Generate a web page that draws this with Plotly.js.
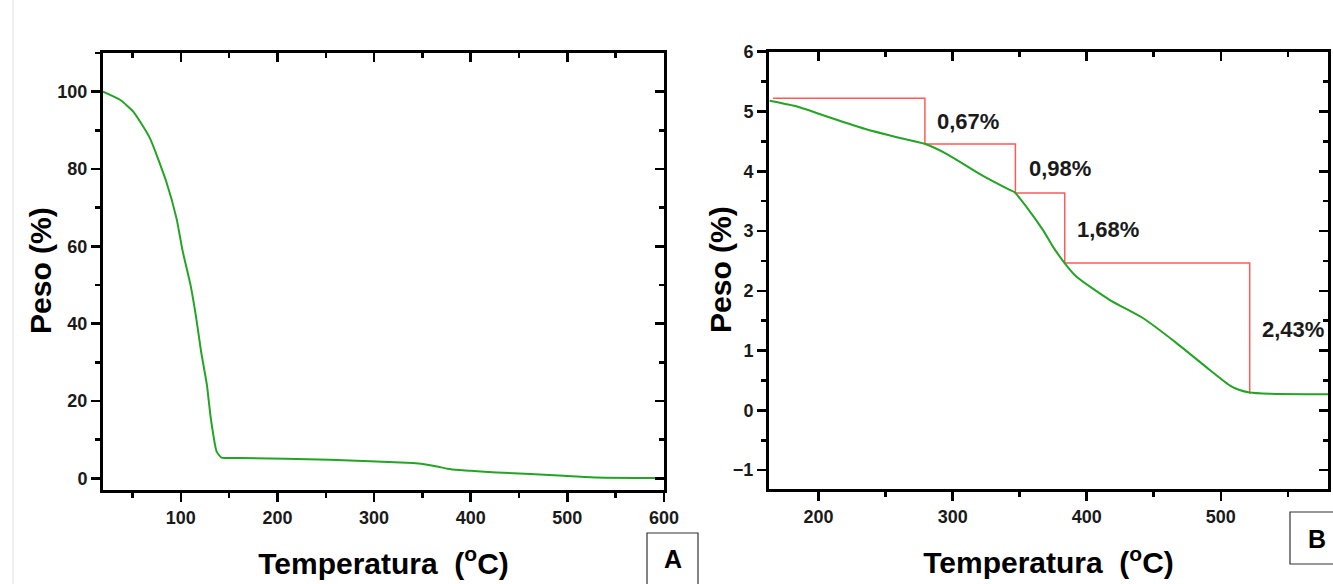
<!DOCTYPE html>
<html>
<head>
<meta charset="utf-8">
<script src="https://cdn.plot.ly/plotly-3.0.1.min.js"></script>
<style>html,body{margin:0;padding:0;background:#fff;}#chart{width:1333px;height:584px;}</style>
</head>
<body>
<div id="chart"></div>
<script>
// Panel A: full TGA curve
const tempA = [19.5, 37, 51, 68, 85, 95.5, 102, 110, 116, 121, 127, 131, 137, 142, 161, 254, 340, 352, 365, 376, 388, 400, 427, 496, 530, 600];
const pesoA = [100, 97.9, 94.8, 88.0, 76.7, 67.3, 58.7, 50.1, 41.4, 32.8, 24.2, 15.6, 7.0, 5.4, 5.27, 4.83, 3.95, 3.65, 3.1, 2.5, 2.15, 1.95, 1.55, 0.7, 0.26, 0.1];

// Panel B: zoomed curve
const tempB = [163.5, 184.6, 209.5, 234.3, 259.1, 279.1, 296.4, 321.3, 342.5, 346.2, 354.9, 367.3, 374.8, 383.5, 392.2, 417, 441.9, 466.8, 491.6, 506.6, 514, 521.5, 536.4, 580];
const pesoB = [5.18, 5.08, 4.89, 4.71, 4.565, 4.46, 4.28, 3.94, 3.69, 3.65, 3.41, 3.02, 2.74, 2.465, 2.24, 1.85, 1.545, 1.13, 0.68, 0.42, 0.34, 0.30, 0.28, 0.27];

// Panel B: red step guide (corners)
const stepT = [166, 279.3, 346.8, 383.6, 521.6];
const stepP = [5.22, 4.455, 3.635, 2.465, 0.28];

// Panel B: step labels
const stepLabels = ["0,67%", "0,98%", "1,68%", "2,43%"];
const labelT = [286.6, 355.2, 391, 529];
const labelP = [4.84, 4.04, 3.02, 1.35];

const FONT = "Liberation Sans, Arial, Helvetica, sans-serif";
const GREEN = "#24a424";
const RED = "#ff5a5a";
const W = 1333, H = 584;
const px = v => v / W;
const py = v => 1 - v / H;

const traces = [
  {x: tempA, y: pesoA, xaxis: "x", yaxis: "y", mode: "lines", line: {color: GREEN, width: 2, shape: "spline", smoothing: 0.5}},
  {x: stepT, y: stepP, xaxis: "x2", yaxis: "y2", mode: "lines", line: {color: RED, width: 1.5, shape: "hv"}},
  {x: tempB, y: pesoB, xaxis: "x2", yaxis: "y2", mode: "lines", line: {color: GREEN, width: 2, shape: "spline", smoothing: 0.6}},
  // empty traces so the mirrored (inside-tick) top/right axes are drawn
  {x: [], y: [], xaxis: "x3", yaxis: "y3", mode: "lines", hoverinfo: "skip"},
  {x: [], y: [], xaxis: "x4", yaxis: "y4", mode: "lines", hoverinfo: "skip"}
];

const tickFont = {family: FONT, size: 18, color: "#1a1a1a", weight: 700};
const titleFont = {family: FONT, size: 30, color: "#000", weight: 700};

function mainAxis(extra) {
  return Object.assign({
    ticks: "outside", ticklen: 9, tickwidth: 2.5, tickcolor: "#000",
    showline: true, linewidth: 3, linecolor: "#000", mirror: true,
    showgrid: false, zeroline: false, tickfont: tickFont
  }, extra);
}
function mirrorAxis(extra) {
  return Object.assign({
    ticks: "inside", ticklen: 9, tickwidth: 2.5, tickcolor: "#000",
    showline: false, showgrid: false, zeroline: false, showticklabels: false
  }, extra);
}
const minorOut = d => ({dtick: d, tick0: 0, ticks: "outside", ticklen: 5, tickwidth: 2.5, tickcolor: "#000", showgrid: false});
const minorIn = d => ({dtick: d, tick0: 0, ticks: "inside", ticklen: 5, tickwidth: 2.5, tickcolor: "#000", showgrid: false});

const xdA = [px(103), px(664)], ydA = [py(490), py(53)];
const xdB = [px(769), px(1328)], ydB = [py(489.3), py(51.7)];
const xTitle = "Temperatura&nbsp; (<sup>o</sup>C)";

const layout = {
  width: W, height: H,
  margin: {l: 0, r: 0, t: 0, b: 0},
  paper_bgcolor: "#fff", plot_bgcolor: "#fff",
  showlegend: false,
  font: {family: FONT},
  xaxis: mainAxis({domain: xdA, anchor: "y", range: [19.5, 600], tick0: 0, dtick: 100, minor: minorOut(50),
    title: {text: xTitle, font: titleFont, standoff: 27}}),
  yaxis: mainAxis({domain: ydA, anchor: "x", range: [-3, 110], tick0: 0, dtick: 20, minor: minorOut(10)}),
  xaxis2: mainAxis({domain: xdB, anchor: "y2", range: [163, 580], tick0: 0, dtick: 100, minor: minorOut(50),
    title: {text: xTitle, font: titleFont, standoff: 27}}),
  yaxis2: mainAxis({domain: ydB, anchor: "x2", range: [-1.32, 6], tick0: 0, dtick: 1, minor: minorOut(0.5)}),
  xaxis3: mirrorAxis({overlaying: "x", side: "top", anchor: "y3", range: [19.5, 600], tick0: 0, dtick: 100, minor: minorIn(50)}),
  yaxis3: mirrorAxis({overlaying: "y", side: "right", anchor: "x3", range: [-3, 110], tick0: 0, dtick: 20, minor: minorIn(10)}),
  xaxis4: mirrorAxis({overlaying: "x2", side: "top", anchor: "y4", range: [163, 580], tick0: 0, dtick: 100, minor: minorIn(50)}),
  yaxis4: mirrorAxis({overlaying: "y2", side: "right", anchor: "x4", range: [-1.32, 6], tick0: 0, dtick: 1, minor: minorIn(0.5)}),
  annotations: stepLabels.map((t, i) => ({
    text: t, x: labelT[i], y: labelP[i], xref: "x2", yref: "y2",
    xanchor: "left", yanchor: "middle", showarrow: false,
    font: {family: FONT, size: 22, color: "#1a1a1a", weight: 700}
  })).concat([
    {text: "Peso (%)", x: px(40), y: py(271), xref: "paper", yref: "paper", xanchor: "center", yanchor: "middle",
     textangle: -90, showarrow: false, font: titleFont},
    {text: "Peso (%)", x: px(720), y: py(270), xref: "paper", yref: "paper", xanchor: "center", yanchor: "middle",
     textangle: -90, showarrow: false, font: titleFont},
    {text: "A", x: px(673), y: py(559), xref: "paper", yref: "paper", xanchor: "center", yanchor: "middle", showarrow: false,
     font: {family: FONT, size: 25, color: "#000", weight: 700}},
    {text: "B", x: px(1316.5), y: py(538.5), xref: "paper", yref: "paper", xanchor: "center", yanchor: "middle", showarrow: false,
     font: {family: FONT, size: 25, color: "#000", weight: 700}}
  ]),
  shapes: [
    {type: "line", xref: "paper", yref: "paper", x0: px(13), x1: px(13), y0: 0, y1: 1, line: {color: "#dedede", width: 1}},
    {type: "rect", xref: "paper", yref: "paper", x0: px(647), x1: px(698), y0: py(533), y1: py(600), line: {color: "#333", width: 1.2}, fillcolor: "rgba(0,0,0,0)"},
    {type: "rect", xref: "paper", yref: "paper", x0: px(1290), x1: px(1345), y0: py(512), y1: py(564), line: {color: "#333", width: 1.2}, fillcolor: "rgba(0,0,0,0)"}
  ]
};

Plotly.newPlot("chart", traces, layout, {displayModeBar: false, staticPlot: true});
</script>
</body>
</html>
